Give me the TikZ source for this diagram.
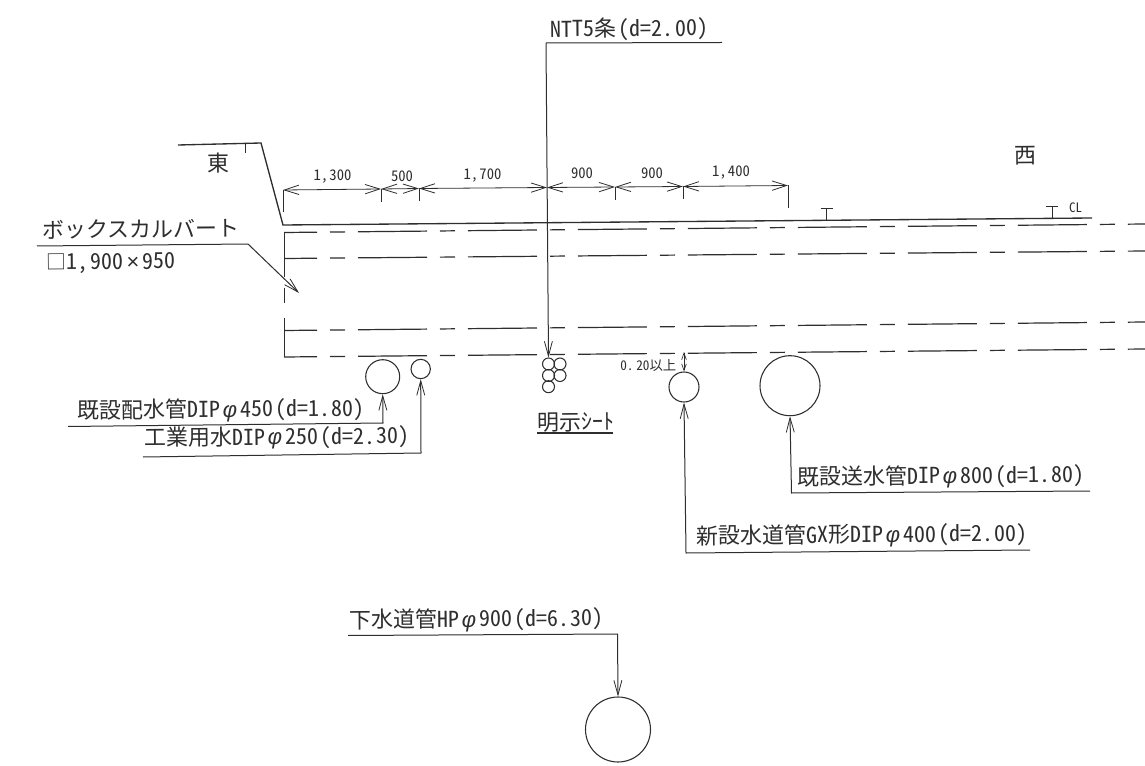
\documentclass[tikz,border=0pt]{standalone}
\usepackage{fontspec}
\usetikzlibrary{arrows.meta}
\setmainfont{Noto Sans CJK JP}
\newfontfamily\hwf[CharacterWidth=Half]{Noto Sans CJK JP}
\newfontfamily\phf{Liberation Sans}
\newcommand{\myphi}{\hspace{2pt}{\phf\itshape φ}\hspace{2pt}}
\newcommand{\mypar}[2]{\hspace{2pt}(d=#1.\hspace{1pt}#2)}
\definecolor{ink}{HTML}{2E2E2E}
\tikzset{
  ink/.style={draw=ink,line width=0.75pt},
  leader/.style={ink,-{Straight Barb[length=11pt,width=6pt,line width=0.6pt]}},
  dimline/.style={ink,line width=0.6pt,{Straight Barb[length=11pt,width=7pt,line width=0.6pt]}-{Straight Barb[length=11pt,width=7pt,line width=0.6pt]}},
  smallarrow/.style={ink,line width=0.6pt,{Straight Barb[length=5pt,width=3.5pt,line width=0.5pt]}-{Straight Barb[length=5pt,width=3.5pt,line width=0.5pt]}},
  road/.style={ink,line width=1pt},
  duct/.style={ink,line width=0.9pt,dash pattern=on 51.75pt off 9.75pt on 11.25pt off 9.75pt,dash phase=27pt},
  pipe/.style={circle,draw=ink,line width=0.8pt,inner sep=0pt},
  lab/.style={anchor=west,inner sep=0pt,rotate=0.5,text=ink,font=\fontsize{16.5pt}{16.5pt}\selectfont\hwf},
  dimlab/.style={inner sep=0pt,text=ink,font=\fontsize{11pt}{11pt}\selectfont\hwf},
}
\begin{document}
\begin{tikzpicture}[x=0.75pt,y=-0.75pt]
\useasboundingbox (0,0) rectangle (1145,766);
\fill[white] (0,0) rectangle (1145,766);
% road
\coordinate (r0) at (178,145); \coordinate (r1) at (261,143);
\coordinate (r2) at (283,225); \coordinate (r3) at (1092,218);
\coordinate (k0) at (245,144); \coordinate (k1) at (245,153);
\draw[road] (r0) -- (r1) -- (r2) -- (r3);
\draw[ink] (k0) -- (k1);
\coordinate (m0) at (826.5,220.5); \coordinate (m1) at (826.5,208.5);
\coordinate (m2) at (1052,218.5); \coordinate (m3) at (1052,206.5);
\coordinate (m1a) at (820.5,208.5); \coordinate (m1b) at (832.5,208.5);
\coordinate (m3a) at (1046,206.5); \coordinate (m3b) at (1058,206.5);
\draw[ink] (m0) -- (m1) (m1a) -- (m1b) (m2) -- (m3) (m3a) -- (m3b);
\node[dimlab,font=\fontsize{9.75pt}{9.75pt}\selectfont\hwf] (cl) at (1075.5,208) {CL};
% culvert
\foreach \n/\a/\b in {a/232.5/224,b/258.5/251,c/330.5/322,d/357/349}{
  \coordinate (\n0) at (284,\a); \coordinate (\n1) at (1145,\b);
  \draw[duct] (\n0) -- (\n1);
}
\coordinate (w0) at (284,277); \coordinate (w1) at (284,288);
\coordinate (w2) at (284,303); \coordinate (w3) at (284,318);
\draw[ink] (a0) -- (w0) (w1) -- (w2) (w3) -- (d0);
% dimension line
\coordinate (d0x) at (283,190); \coordinate (d0y) at (283,212);
\coordinate (t1) at (381,189); \coordinate (t1b) at (381,202);
\coordinate (t2) at (419,188.5); \coordinate (t2b) at (419,201.5);
\coordinate (t3) at (547,187.5); \coordinate (t4) at (615,187);
\coordinate (t4b) at (615,200); \coordinate (t5) at (683,186.5);
\coordinate (t5b) at (683,199.5); \coordinate (t6) at (788,185.5);
\coordinate (t6b) at (788,208);
\draw[ink] (d0x) -- (d0y) (t1) -- (t1b) (t2) -- (t2b) (t4) -- (t4b) (t5) -- (t5b) (t6) -- (t6b);
\draw[dimline] (d0x) -- (t1);
\draw[dimline] (t1) -- (t2);
\draw[dimline] (t2) -- (t3);
\draw[dimline] (t3) -- (t4);
\draw[dimline] (t4) -- (t5);
\draw[dimline] (t5) -- (t6);
\node[dimlab] (n1) at (332.5,177) {1,\hspace{1pt}300};
\node[dimlab] (n2) at (402,176) {500};
\node[dimlab] (n3) at (482.5,176) {1,\hspace{1pt}700};
\node[dimlab] (n4) at (582,173.5) {900};
\node[dimlab] (n5) at (652,173.5) {900};
\node[dimlab] (n6) at (731,173) {1,\hspace{1pt}400};
% pipes
\node[pipe,minimum size=25.5pt] (p450) at (382.7,376.7) {};
\node[pipe,minimum size=14.5pt] (p250) at (420.7,369) {};
\node[pipe,minimum size=22.5pt] (p400) at (684,387) {};
\node[pipe,minimum size=45pt] (p800) at (790,385.7) {};
\node[pipe,minimum size=48.75pt] (p900) at (618,729.5) {};
\foreach \n/\x/\y in {q1/548.5/364,q2/560/364,q3/548.5/375.5,q4/560/375.5,q5/548.5/386.7}{
  \node[pipe,minimum size=9pt] (\n) at (\x,\y) {};
}
% labels
\node[lab] (east) at (207,163) {東};
\node[lab] (west) at (1014,156) {西};
\node[lab] (ntt) at (550,30) {NTT5条\mypar{2}{00}};
\node[lab] (box) at (42,230) {ボックスカルバート};
\node[lab] (size) at (46,264) {{\fontsize{15pt}{15pt}\selectfont □}1,\hspace{2pt}900\hspace{2pt}{\phf ×}\hspace{2pt}950};
\node[lab] (l450) at (77,411.5) {既設配水管DIP\myphi 450\mypar{1}{80}};
\node[lab] (l250) at (144,439) {工業用水DIP\myphi 250\mypar{2}{30}};
\node[lab] (sheet) at (537,422.5) {明示ｼｰﾄ};
\node[lab] (l800) at (797,478) {既設送水管DIP\myphi 800\mypar{1}{80}};
\node[lab] (l400) at (696,537) {新設水道管GX形DIP\myphi 400\mypar{2}{00}};
\node[lab] (lhp) at (349,621) {下水道管HP\myphi 900\mypar{6}{30}};
\node[lab,font=\fontsize{10pt}{10pt}\selectfont\hwf] (gap) at (620,365.5) {0.\hspace{2pt}20以上};
% leaders
\coordinate (a1) at (546,43); \coordinate (a2) at (722,42.5);
\draw[ink] (a2) -- (a1);
\draw[leader] (a1) -- (q1.north);
\coordinate (b1) at (37,246); \coordinate (b2) at (248,244); \coordinate (b3) at (299,293);
\draw[leader] (b1) -- (b2) -- (b3);
\coordinate (c1) at (68,426.5); \coordinate (c2) at (383,423);
\draw[leader] (c1) -- (c2) -- (p450.south);
\coordinate (e1) at (143,457); \coordinate (e2) at (421,453);
\draw[leader] (e1) -- (e2) -- (p250.south);
\coordinate (f2) at (791.5,493); \coordinate (f3) at (1090,491);
\draw[leader] (f3) -- (f2) -- (p800.south);
\coordinate (g2) at (686,553); \coordinate (g3) at (1030,550);
\draw[leader] (g3) -- (g2) -- (p400.south);
\coordinate (h1) at (348,635.5); \coordinate (h2) at (617.5,634);
\draw[leader] (h1) -- (h2) -- (p900.north);
\coordinate (s1) at (537,433); \coordinate (s2) at (613,433);
\draw[ink,line width=1pt] (s1) -- (s2);
\coordinate (z1) at (684,352);
\draw[smallarrow] (z1) -- (p400.north);
\end{tikzpicture}
\end{document}
